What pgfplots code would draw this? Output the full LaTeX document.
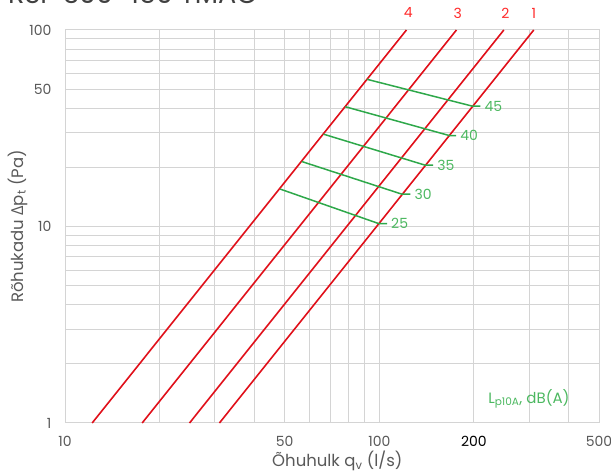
\documentclass[border=0pt]{standalone}
\usepackage{pgfplots}
\pgfplotsset{compat=1.18}
\usepackage{fontspec}
\setmainfont{Poppins}
\newfontfamily\deltafont{Open Sans}
\definecolor{txt}{HTML}{595959}
\definecolor{gridc}{HTML}{D4D4D4}
\definecolor{redl}{HTML}{E0101A}
\definecolor{greenl}{HTML}{2EA84A}
\definecolor{greent}{HTML}{4CB860}
\definecolor{redt}{HTML}{FF2A2A}
\begin{document}
\begin{tikzpicture}[x=1pt,y=1pt]
\useasboundingbox (0,0) rectangle (611,476);
\node[overlay, anchor=base west, inner sep=0, font=\fontsize{27}{27}\selectfont, text=black!75] at (8,472) {RSP 300×150 TMAC};
\begin{axis}[at={(65pt,53pt)}, anchor=south west, scale only axis, width=534pt, height=393pt,
  xmode=log, ymode=log, xmin=10, xmax=500, ymin=1, ymax=100,
  xtick={10,50,100,200,500}, xticklabels={10,50,100,{\color{black}200},500},
  minor xtick={20,30,40,60,70,80,90,300,400},
  ytick={1,10,50,100}, yticklabels={1,10,50,100},
  minor ytick={2,3,4,5,6,7,8,9,20,30,40,60,70,80,90},
  grid=both, major grid style={gridc, line width=1pt}, minor grid style={gridc, line width=1pt},
  axis line style={gridc, line width=1pt},
  tick style={draw=none},
  ticklabel style={font=\fontsize{14}{14}\selectfont, text=txt},
  xticklabel style={yshift=-10pt},
  yticklabel style={xshift=-10pt},
  /pgf/number format/assume math mode=true,
  xlabel={Õhuhulk q\textsubscript{v} (l/s)},
  ylabel={Rõhukadu {\deltafont Δ}p\textsubscript{t} (Pa)},
  label style={font=\fontsize{16.5}{16.5}\selectfont, text=txt},
  xlabel style={at={(axis description cs:0.51,0)}, anchor=base, yshift=-43.7pt},
  ylabel style={at={(axis description cs:-0.089,0.5)}, anchor=center},
  clip=false,
]
% red lines (dp proportional to q^2)
\addplot[redl, line width=1.6pt] coordinates {(12.2,1) (122,100)};
\addplot[redl, line width=1.6pt] coordinates {(17.6,1) (176,100)};
\addplot[redl, line width=1.6pt] coordinates {(24.9,1) (249,100)};
\addplot[redl, line width=1.6pt] coordinates {(31.0,1) (310,100)};
% green sound lines
\addplot[greenl, line width=1.5pt] coordinates {(91.4,56.1) (197.4,41.0) (209.7,41.0)};
\addplot[greenl, line width=1.5pt] coordinates {(77.9,40.7) (167.4,29.0) (175.5,29.0)};
\addplot[greenl, line width=1.5pt] coordinates {(66.45,29.5) (140.1,20.5) (148.3,20.5)};
\addplot[greenl, line width=1.5pt] coordinates {(56.7,21.4) (118.1,14.6) (125.5,14.6)};
\addplot[greenl, line width=1.5pt] coordinates {(48.4,15.5) (99.5,10.35) (105.8,10.35)};
% labels
\begin{scope}[every node/.style={font=\fontsize{14}{14}\selectfont, text=greent, anchor=west, inner sep=0, xshift=4pt}]
\node at (axis cs:209.7,41.0) {45};
\node at (axis cs:175.5,29.0) {40};
\node at (axis cs:148.3,20.5) {35};
\node at (axis cs:125.5,14.6) {30};
\node at (axis cs:105.8,10.35) {25};
\end{scope}
\begin{scope}[every node/.style={font=\fontsize{14}{14}\selectfont, text=redt, anchor=center, inner sep=0, yshift=17pt}]
\node at (axis cs:123.7,100) {4};
\node at (axis cs:177.8,100) {3};
\node at (axis cs:251.9,100) {2};
\node at (axis cs:310.4,100) {1};
\end{scope}
\node[anchor=base west, inner sep=0, font=\fontsize{15}{15}\selectfont, text=greent] at (axis cs:222,1.264) {L\textsubscript{p10A}, dB(A)};
\end{axis}
\end{tikzpicture}
\end{document}
